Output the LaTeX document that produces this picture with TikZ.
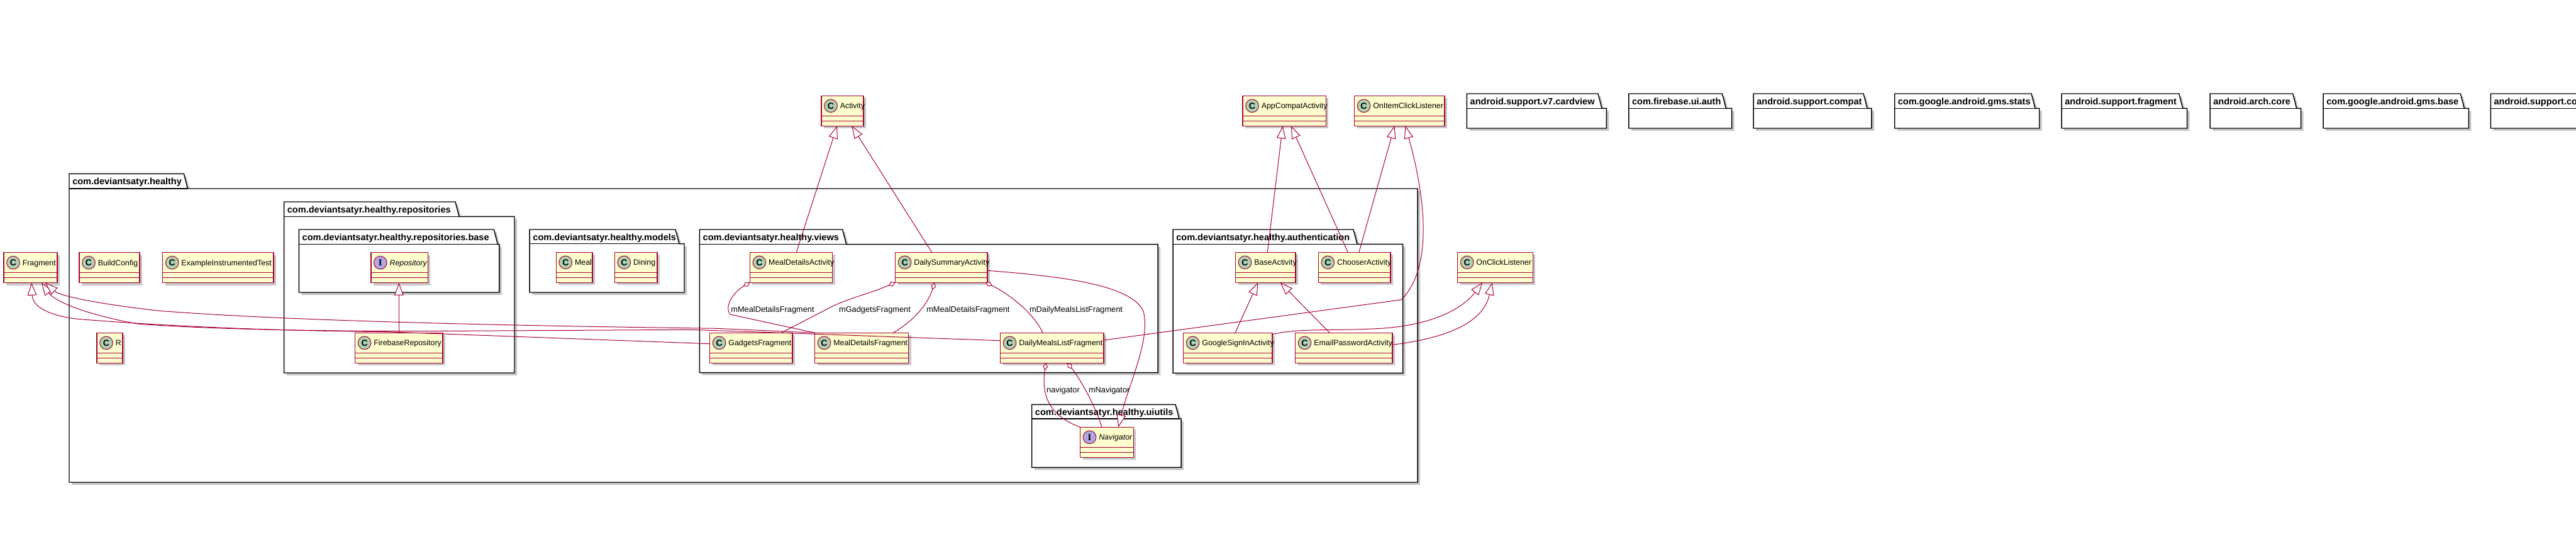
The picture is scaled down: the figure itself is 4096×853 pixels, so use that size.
\documentclass[tikz,border=0pt]{standalone}
\usepackage{fontspec}
\setmainfont{Liberation Sans}
\newfontfamily\iletterfont{Liberation Serif}
\usetikzlibrary{arrows.meta,calc,fit}
\definecolor{umlred}{HTML}{A80036}
\definecolor{umlfill}{HTML}{FEFECE}
\definecolor{circc}{HTML}{ADD1B2}
\definecolor{circi}{HTML}{B4A7E5}
\tikzset{
  shadowfill/.style={fill=black!22},
  clsbox/.style={draw=umlred, fill=umlfill, line width=1.1pt, inner sep=0pt, outer sep=0pt},
  clsline/.style={draw=umlred, line width=1.1pt},
  circ/.style={circle, draw=umlred, line width=0.75pt, minimum size=15.5pt, inner sep=0pt},
  clstext/.style={inner sep=0pt, anchor=base west, font=\fontsize{9.3}{11}\selectfont},
  pkgbox/.style={draw=black, fill=white, line width=1.1pt, line join=miter},
  pkgtitle/.style={inner sep=0pt, anchor=base west, font=\fontsize{10.9}{12}\selectfont\bfseries},
  rel/.style={draw=umlred, line width=0.75pt},
  ext/.style={rel, arrows={Triangle[length=15pt,width=11pt,fill=white]-}},
  agg/.style={rel, arrows={Diamond[length=9pt,width=6pt,fill=white]-}},
  lbl/.style={inner sep=0pt, anchor=base, font=\fontsize{9.6}{11}\selectfont},
}
% #1 name, #2 x1, #3 y1, #4 x2, #5 letter, #6 circle colour, #7 text
\newcommand\umlcls[7]{%
  \fill[shadowfill] (#2+4,#3+4) rectangle (#4+4,#3+52);
  \node[clsbox, fit={(#2,#3) (#4,#3+48)}] (#1) {};
  \draw[clsline] (#2,#3+32) -- (#4,#3+32) (#2,#3+40) -- (#4,#3+40);
  \node[circ, fill=#6] (#1-c) at (#2+15,#3+16) {#5};
  \node[clstext] (#1-t) at (#2+29.5,#3+20.5) {#7};
}
\newcommand\cletter{\fontsize{10.5}{12}\selectfont\bfseries C}
\newcommand\iletter{\fontsize{11}{12}\selectfont\iletterfont\bfseries I}
% #1 name, #2 x1, #3 tab top, #4 tab right, #5 body top, #6 x2, #7 y2, #8 title
\newcommand\umlpkg[8]{%
  \fill[shadowfill] (#2+4,#3+4) -- (#4-2,#3+4) -- (#4+4,#5+4) -- (#6+4,#5+4) -- (#6+4,#7+4) -- (#2+4,#7+4) -- cycle;
  \draw[pkgbox] (#2,#3) -- (#4-6,#3) -- (#4,#5) -- (#6,#5) -- (#6,#7) -- (#2,#7) -- cycle;
  \draw[pkgbox] (#2,#5) -- (#4,#5);
  \node[pkgtitle] (#1) at (#2+5,#3+17.5) {#8};
}
\begin{document}
\begin{tikzpicture}[x=0.75pt,y=-0.75pt]
\useasboundingbox (0,0) rectangle (4096,853);
\clip (0,0) rectangle (4096,853);
\fill[white] (0,0) rectangle (4096,853);

% packages
\umlpkg{pHealthy}{110}{276.3}{298.4}{300}{2254}{767}{com.deviantsatyr.healthy}
\umlpkg{pRepos}{451.6}{321}{730}{344.3}{818}{593}{com.deviantsatyr.healthy.repositories}
\umlpkg{pBase}{475.4}{365}{791.4}{388.7}{793.8}{465}{com.deviantsatyr.healthy.repositories.base}
\umlpkg{pModels}{842.2}{365}{1080}{387.7}{1088}{465}{com.deviantsatyr.healthy.models}
\umlpkg{pViews}{1112.4}{365}{1345.7}{388.7}{1841}{592.7}{com.deviantsatyr.healthy.views}
\umlpkg{pAuth}{1865}{365}{2158}{388.3}{2230.6}{593.3}{com.deviantsatyr.healthy.authentication}
\umlpkg{pUi}{1640.7}{643.3}{1875}{666}{1878}{743.3}{com.deviantsatyr.healthy.uiutils}
\umlpkg{pCard}{2332.4}{149}{2547}{172.3}{2554.4}{204}{android.support.v7.cardview}
\umlpkg{pFire}{2589.8}{149}{2744.4}{172.3}{2753.6}{204}{com.firebase.ui.auth}
\umlpkg{pCompat}{2788}{149}{2969}{172.3}{2975.8}{204}{android.support.compat}
\umlpkg{pStats}{3012.5}{149}{3236}{172.3}{3242.7}{204}{com.google.android.gms.stats}
\umlpkg{pFrag}{3278}{149}{3470.7}{172.3}{3477.6}{204}{android.support.fragment}
\umlpkg{pArch}{3514}{149}{3651.7}{172.3}{3658.6}{204}{android.arch.core}
\umlpkg{pGmsBase}{3694}{149}{3918.3}{172.3}{3925.4}{204}{com.google.android.gms.base}
\umlpkg{pSupCo}{3960.3}{149}{4130}{172.3}{4200}{204}{android.support.co}

% classes
\umlcls{Frag}{6}{401.7}{91}{\cletter}{circc}{Fragment}
\umlcls{BC}{126}{401.7}{222}{\cletter}{circc}{BuildConfig}
\umlcls{EIT}{258.7}{401.7}{435.1}{\cletter}{circc}{ExampleInstrumentedTest}
\umlcls{R}{154}{529.3}{195}{\cletter}{circc}{R}
\umlcls{Repo}{589.8}{401.7}{680.4}{\iletter}{circi}{\itshape Repository}
\umlcls{FR}{564.6}{529.3}{704.2}{\cletter}{circc}{FirebaseRepository}
\umlcls{Meal}{884.3}{401.3}{942}{\cletter}{circc}{Meal}
\umlcls{Dining}{977.3}{401.3}{1045}{\cletter}{circc}{Dining}
\umlcls{MDA}{1192.4}{401.3}{1323.7}{\cletter}{circc}{MealDetailsActivity}
\umlcls{DSA}{1423.6}{401.3}{1570}{\cletter}{circc}{DailySummaryActivity}
\umlcls{GF}{1128.6}{529.3}{1260}{\cletter}{circc}{GadgetsFragment}
\umlcls{MDF}{1295.5}{529.3}{1444.5}{\cletter}{circc}{MealDetailsFragment}
\umlcls{DMLF}{1590.5}{529.3}{1755.2}{\cletter}{circc}{DailyMealsListFragment}
\umlcls{Nav}{1717.5}{679.3}{1802.3}{\iletter}{circi}{\itshape Navigator}
\umlcls{BA}{1964.5}{401.3}{2060}{\cletter}{circc}{BaseActivity}
\umlcls{CA}{2096.3}{401.3}{2211.2}{\cletter}{circc}{ChooserActivity}
\umlcls{GSIA}{1881.6}{529.3}{2023}{\cletter}{circc}{GoogleSignInActivity}
\umlcls{EPA}{2059.5}{529.3}{2214}{\cletter}{circc}{EmailPasswordActivity}
\umlcls{OCL}{2317.7}{401.3}{2437.3}{\cletter}{circc}{OnClickListener}
\umlcls{Act}{1306}{152.3}{1373}{\cletter}{circc}{Activity}
\umlcls{ACA}{1976}{152.3}{2108.4}{\cletter}{circc}{AppCompatActivity}
\umlcls{OICL}{2153.5}{152.3}{2297}{\cletter}{circc}{OnItemClickListener}

% extension connectors
\draw[ext] ($(Act.south west)+(25,0)$) -- ($(MDA.north west)+(73.8,0)$);
\draw[ext] ($(Act.south west)+(48.3,0)$) -- ($(DSA.north west)+(58,0)$);
\draw[ext] ($(Repo.south west)+(44.6,0)$) -- ($(FR.north west)+(69.8,0)$);
\draw[ext] ($(ACA.south west)+(63.6,0)$) -- ($(BA.north west)+(50.8,0)$);
\draw[ext] ($(ACA.south west)+(76.7,0)$) -- ($(CA.north west)+(47,0)$);
\draw[ext] ($(OICL.south west)+(64,0)$) -- ($(CA.north west)+(64.5,0)$);
\draw[ext] ($(OICL.south west)+(81,0)$) .. controls (2260,290) and (2285,420) .. (2228,476.7) -- ($(DMLF.north east)+(0,11.7)$);
\draw[ext] ($(BA.south west)+(35.8,0)$) -- ($(GSIA.north west)+(82.4,0)$);
\draw[ext] ($(BA.south west)+(71.2,0)$) -- ($(EPA.north west)+(54.7,0)$);
\draw[ext] ($(OCL.south west)+(39.6,0)$) .. controls (2330,485) and (2290,515) .. (2200,522) .. controls (2120,527) and (2070,521) .. ($(GSIA.north east)+(0,2.4)$);
\draw[ext] ($(OCL.south west)+(55,0)$) .. controls (2360,505) and (2320,535) .. ($(EPA.north east)+(0,19)$);
\draw[ext] ($(Frag.south west)+(44,0)$) .. controls (52,485) and (70,500) .. (120,507) .. controls (300,522) and (500,527) .. (610,527.5) -- ($(GF.north west)+(0,17.4)$);
\draw[ext] ($(Frag.south west)+(60,0)$) .. controls (80,470) and (105,494) .. (218,515) .. controls (350,525) and (550,527) .. (700,526.5) -- (1100,524.3) -- ($(DMLF.north west)+(0,12.4)$);
\draw[ext] ($(Frag.south west)+(66,0)$) .. controls (92,468) and (130,480) .. (250,494) .. controls (450,510) and (800,518) .. (1140,522.3) -- (MDF.north west);
\draw[ext] ($(Nav.north west)+(60.7,0)$) .. controls (1795,610) and (1830,540) .. (1818,495) .. controls (1800,455) and (1700,440) .. ($(DSA.south east)+(0,-19)$);

% aggregation connectors
\draw[agg] (MDA.south west) .. controls (1170,462) and (1150,485) .. (1161,500) -- (MDF.north west);
\draw[agg] (DSA.south west) .. controls (1385,466) and (1345,476) .. (1322,488) -- ($(GF.north east)+(-18,0)$);
\draw[agg] ($(DSA.south west)+(62.5,0)$) .. controls (1478,475) and (1462,505) .. ($(MDF.north east)+(-24.5,0)$);
\draw[agg] ($(DSA.south east)+(-3,0)$) .. controls (1590,460) and (1640,490) .. ($(DMLF.north west)+(67.5,0)$);
\draw[agg] ($(DMLF.south west)+(72.5,0)$) .. controls (1656,625) and (1665,660) .. (Nav.north west);
\draw[agg] ($(DMLF.south west)+(106.5,0)$) .. controls (1712,595) and (1740,640) .. ($(Nav.north west)+(34.5,0)$);

% labels
\node[lbl] (l1) at (1228.5,496) {mMealDetailsFragment};
\node[lbl] (l2) at (1391,496) {mGadgetsFragment};
\node[lbl] (l3) at (1539.4,496) {mMealDetailsFragment};
\node[lbl] (l4) at (1711,496) {mDailyMealsListFragment};
\node[lbl] (l5) at (1690.5,624) {navigator};
\node[lbl] (l6) at (1763.7,624) {mNavigator};
\end{tikzpicture}
\end{document}
